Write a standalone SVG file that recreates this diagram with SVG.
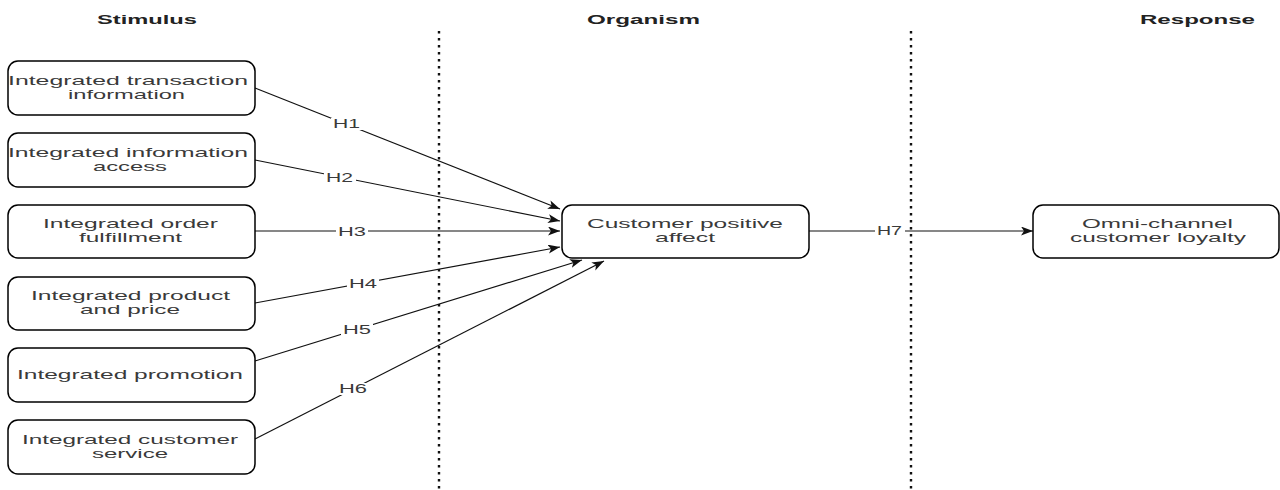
<svg xmlns="http://www.w3.org/2000/svg" width="1280" height="490" viewBox="0 0 1280 490">
<style>
.box{fill:#fff;stroke:#000;stroke-width:1.5}
.t{font-family:"Liberation Sans",Arial,sans-serif;font-size:13px;fill:#3a3a3a}
.hd{font-family:"Liberation Sans",Arial,sans-serif;font-size:13px;font-weight:bold;fill:#222}
.lbl{font-family:"Liberation Sans",Arial,sans-serif;font-size:12px;fill:#3a3a3a}
.lb{fill:#fff}
.e{fill:none;stroke:#111;stroke-width:1.2;marker-end:url(#ah)}
.dot{stroke:#111;stroke-width:2.4;stroke-dasharray:2.5 4.5}
</style>
<defs>
<marker id="ah" markerUnits="userSpaceOnUse" markerWidth="13" markerHeight="10" refX="12" refY="4.5" orient="auto">
<path d="M0,0 L12,4.5 L0,9 L3,4.5 z" fill="#111"/>
</marker>
</defs>
<rect width="1280" height="490" fill="#fff"/>
<g id="headers">
<text class="hd" x="97" y="24" textLength="100" lengthAdjust="spacingAndGlyphs">Stimulus</text>
<text class="hd" x="587" y="24" textLength="113" lengthAdjust="spacingAndGlyphs">Organism</text>
<text class="hd" x="1140" y="24" textLength="115" lengthAdjust="spacingAndGlyphs">Response</text>
</g>
<g id="dividers">
<line class="dot" x1="439" y1="31" x2="439" y2="490"/>
<line class="dot" x1="911" y1="31" x2="911" y2="490"/>
</g>
<g id="connectors">
<path class="e" d="M255,88 L560,209"/>
<path class="e" d="M255,160 L560,221"/>
<path class="e" d="M255,231 L560,231"/>
<path class="e" d="M255,303 L560,247"/>
<path class="e" d="M255,361 L582,260"/>
<path class="e" d="M255,439 L604,261"/>
<path class="e" d="M809,231 L1033,231"/>
<rect class="lb" x="331" y="118" width="32" height="12"/><text class="lbl" x="333" y="128" textLength="27" lengthAdjust="spacingAndGlyphs">H1</text>
<rect class="lb" x="324" y="172" width="32" height="12"/><text class="lbl" x="326" y="182" textLength="27" lengthAdjust="spacingAndGlyphs">H2</text>
<rect class="lb" x="336" y="226" width="32" height="12"/><text class="lbl" x="338" y="236" textLength="28" lengthAdjust="spacingAndGlyphs">H3</text>
<rect class="lb" x="347" y="278" width="32" height="12"/><text class="lbl" x="349" y="288" textLength="28" lengthAdjust="spacingAndGlyphs">H4</text>
<rect class="lb" x="341" y="324" width="32" height="12"/><text class="lbl" x="343" y="334" textLength="28" lengthAdjust="spacingAndGlyphs">H5</text>
<rect class="lb" x="337" y="383" width="32" height="12"/><text class="lbl" x="339" y="393" textLength="28" lengthAdjust="spacingAndGlyphs">H6</text>
<rect class="lb" x="875" y="225" width="30" height="12"/><text class="lbl" x="877" y="235" textLength="25" lengthAdjust="spacingAndGlyphs">H7</text>
</g>
<g id="n1">
<rect class="box" x="8" y="61" width="247" height="54" rx="10"/>
<text class="t" x="8" y="85" textLength="240" lengthAdjust="spacingAndGlyphs">Integrated transaction</text>
<text class="t" x="68" y="99" textLength="117" lengthAdjust="spacingAndGlyphs">information</text>
</g>
<g id="n2">
<rect class="box" x="8" y="133" width="247" height="54" rx="10"/>
<text class="t" x="8" y="157" textLength="240" lengthAdjust="spacingAndGlyphs">Integrated information</text>
<text class="t" x="93" y="171" textLength="74" lengthAdjust="spacingAndGlyphs">access</text>
</g>
<g id="n3">
<rect class="box" x="8" y="205" width="247" height="53" rx="10"/>
<text class="t" x="43" y="228" textLength="175" lengthAdjust="spacingAndGlyphs">Integrated order</text>
<text class="t" x="79" y="242" textLength="103" lengthAdjust="spacingAndGlyphs">fulfillment</text>
</g>
<g id="n4">
<rect class="box" x="8" y="277" width="247" height="53" rx="10"/>
<text class="t" x="31" y="300" textLength="199" lengthAdjust="spacingAndGlyphs">Integrated product</text>
<text class="t" x="80" y="314" textLength="100" lengthAdjust="spacingAndGlyphs">and price</text>
</g>
<g id="n5">
<rect class="box" x="8" y="348" width="247" height="54" rx="10"/>
<text class="t" x="17" y="379" textLength="226" lengthAdjust="spacingAndGlyphs">Integrated promotion</text>
</g>
<g id="n6">
<rect class="box" x="8" y="420" width="247" height="54" rx="10"/>
<text class="t" x="22" y="444" textLength="216" lengthAdjust="spacingAndGlyphs">Integrated customer</text>
<text class="t" x="92" y="458" textLength="76" lengthAdjust="spacingAndGlyphs">service</text>
</g>
<g id="n7">
<rect class="box" x="562" y="205" width="247" height="53" rx="10"/>
<text class="t" x="587" y="228" textLength="196" lengthAdjust="spacingAndGlyphs">Customer positive</text>
<text class="t" x="655" y="242" textLength="60" lengthAdjust="spacingAndGlyphs">affect</text>
</g>
<g id="n8">
<rect class="box" x="1033" y="205" width="246" height="53" rx="10"/>
<text class="t" x="1082" y="228" textLength="151" lengthAdjust="spacingAndGlyphs">Omni-channel</text>
<text class="t" x="1070" y="242" textLength="176" lengthAdjust="spacingAndGlyphs">customer loyalty</text>
</g>
</svg>
